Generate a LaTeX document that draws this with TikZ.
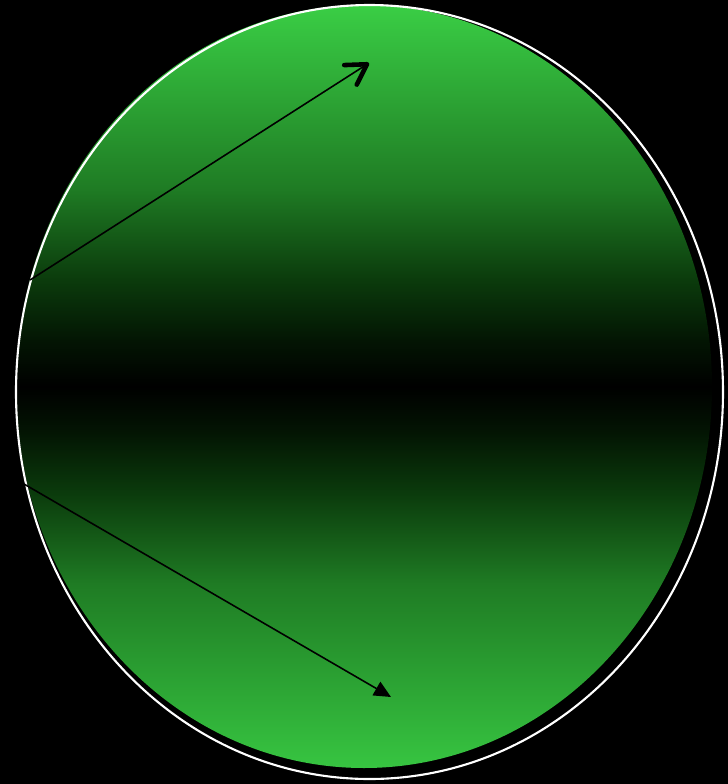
\documentclass[tikz,border=0pt]{standalone}
\usepackage{xcolor}
\usepackage{tikz}
\usetikzlibrary{arrows.meta}
\definecolor{gtop}{HTML}{3ACE45}
\definecolor{gbot}{HTML}{37C541}
\definecolor{gmid}{HTML}{1F7C24}
\definecolor{gdark}{HTML}{0B3B0C}
\definecolor{gdeep}{HTML}{031503}
\pgfdeclareverticalshading{greenband}{100bp}{
  color(0bp)=(gbot); color(25bp)=(gbot); color(37bp)=(gmid);
  color(43bp)=(gdark); color(47bp)=(gdeep); color(50bp)=(black);
  color(53bp)=(gdeep); color(57bp)=(gdark); color(63bp)=(gmid);
  color(75bp)=(gtop); color(100bp)=(gtop)}

\begin{document}
\begin{tikzpicture}[
    x=0.01cm, y=-0.01cm,
    globe/.style={shading=greenband},
    rim/.style={draw=white, line width=0.6pt},
    arrowopen/.style={-{Straight Barb[round, length=5.6pt, width=6.6pt, line width=1.3pt]},
      line width=0.45pt, black},
    arrowfilled/.style={-{Triangle[length=4.8pt, width=4.4pt]},
      line width=0.45pt, black},
]
% Background
\fill[black] (0,0) rectangle (728,784);
\useasboundingbox (0,0) rectangle (728,784);
% Shapes
\shade[globe] (364,386.5) ellipse [x radius=348, y radius=381.5];
\draw[rim] (369.5,392) ellipse [x radius=353.5, y radius=387];
% Points
\coordinate (upstart) at (30,280);
\coordinate (upend)   at (369,63);
\coordinate (lowstart) at (24,484);
\coordinate (lowend)   at (391,697);
% Arrows
\draw[arrowopen] (upstart) -- (upend);
\draw[arrowfilled] (lowstart) -- (lowend);
\end{tikzpicture}
\end{document}
